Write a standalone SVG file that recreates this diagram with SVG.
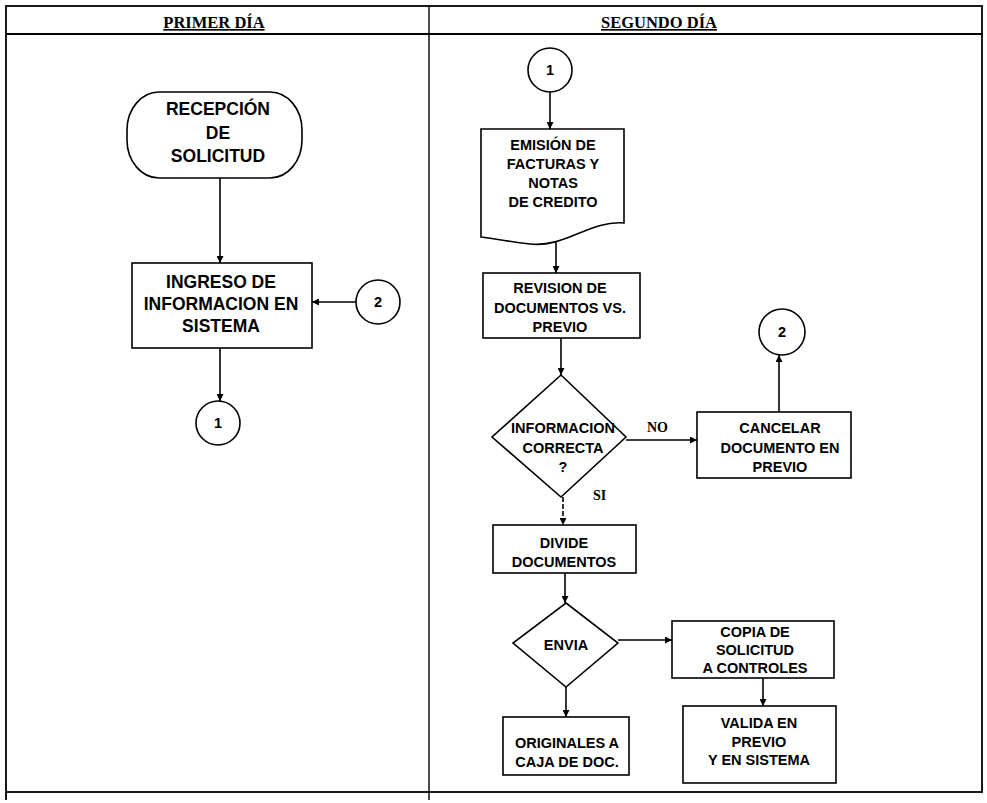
<svg xmlns="http://www.w3.org/2000/svg" width="987" height="803" viewBox="0 0 987 803">
<defs>
<style>
.ln{stroke:#000;stroke-width:1.6;fill:none}
.sh{stroke:#000;stroke-width:1.6;fill:#fff}
.t{font-family:"Liberation Sans",Arial,sans-serif;font-weight:bold;font-size:14.5px;text-anchor:middle;fill:#000}
.tl{font-family:"Liberation Sans",Arial,sans-serif;font-weight:bold;font-size:17.5px;text-anchor:middle;fill:#000}
.h{font-family:"Liberation Serif","Times New Roman",serif;font-weight:bold;font-size:16.5px;text-anchor:middle;fill:#000;text-decoration:underline}
.s{font-family:"Liberation Serif","Times New Roman",serif;font-weight:bold;font-size:14px;fill:#000}
</style>
<marker id="ah" viewBox="0 0 10 10" refX="10" refY="5" markerWidth="7" markerHeight="7" orient="auto" markerUnits="userSpaceOnUse">
<path d="M0,0 L10,5 L0,10 z" fill="#000"/>
</marker>
</defs>
<rect width="987" height="803" fill="#fff"/>
<g id="table">
<rect x="6" y="6" width="976" height="786" fill="none" stroke="#000" stroke-width="1.8"/>
<line x1="6" y1="34" x2="982" y2="34" stroke="#000" stroke-width="1.8"/>
<line x1="429" y1="6" x2="429" y2="800" stroke="#000" stroke-width="1.4"/>
<line x1="6" y1="792" x2="6" y2="800" stroke="#000" stroke-width="1.8"/>
<text class="h" x="214" y="28">PRIMER DÍA</text>
<text class="h" x="659" y="28">SEGUNDO DÍA</text>
</g>
<g id="connectors">
<line class="ln" x1="220" y1="178" x2="220" y2="263" marker-end="url(#ah)"/>
<line class="ln" x1="356" y1="302" x2="312" y2="302" marker-end="url(#ah)"/>
<line class="ln" x1="220" y1="348" x2="220" y2="401" marker-end="url(#ah)"/>
<line class="ln" x1="550" y1="92" x2="550" y2="129" marker-end="url(#ah)"/>
<line class="ln" x1="556" y1="241" x2="556" y2="273" marker-end="url(#ah)"/>
<line class="ln" x1="561" y1="338" x2="561" y2="375" marker-end="url(#ah)"/>
<line class="ln" x1="626" y1="440" x2="697" y2="440" marker-end="url(#ah)"/>
<line class="ln" x1="779" y1="412" x2="779" y2="355" marker-end="url(#ah)"/>
<line class="ln" x1="563" y1="497" x2="563" y2="525" marker-end="url(#ah)" stroke-dasharray="5,2"/>
<line class="ln" x1="565" y1="573" x2="565" y2="603" marker-end="url(#ah)"/>
<line class="ln" x1="618" y1="640" x2="672" y2="640" marker-end="url(#ah)"/>
<line class="ln" x1="763" y1="678" x2="763" y2="706" marker-end="url(#ah)"/>
<line class="ln" x1="566" y1="687" x2="566" y2="717" marker-end="url(#ah)"/>
</g>
<g id="recepcion">
<rect class="sh" x="127" y="92" width="175" height="86" rx="32" ry="38"/>
<text class="tl" x="218" y="115">RECEPCIÓN</text>
<text class="tl" x="218" y="139">DE</text>
<text class="tl" x="218" y="162">SOLICITUD</text>
</g>
<g id="ingreso">
<rect class="sh" x="132" y="263" width="180" height="85"/>
<text class="tl" x="221" y="288">INGRESO DE</text>
<text class="tl" x="221" y="310">INFORMACION EN</text>
<text class="tl" x="221" y="332">SISTEMA</text>
</g>
<g id="conn2-left">
<circle class="sh" cx="378" cy="302" r="22"/>
<text class="t" x="378" y="307">2</text>
</g>
<g id="conn1-left">
<circle class="sh" cx="218" cy="423" r="22"/>
<text class="t" x="218" y="428">1</text>
</g>
<g id="conn1-right">
<circle class="sh" cx="550" cy="70" r="22"/>
<text class="t" x="550" y="75">1</text>
</g>
<g id="emision">
<path class="sh" d="M481,129 L624,129 L624,223 C590,220 565,248 530,244 C505,241 490,238 481,237 Z"/>
<text class="t" x="553" y="150">EMISIÓN DE</text>
<text class="t" x="553" y="169">FACTURAS Y</text>
<text class="t" x="553" y="188">NOTAS</text>
<text class="t" x="553" y="207">DE CREDITO</text>
</g>
<g id="revision">
<rect class="sh" x="483" y="273" width="157" height="65"/>
<text class="t" x="560" y="293">REVISION DE</text>
<text class="t" x="560" y="313">DOCUMENTOS VS.</text>
<text class="t" x="560" y="332">PREVIO</text>
</g>
<g id="informacion">
<path class="sh" d="M561,375 L626,437 L561,497 L492,437 Z"/>
<text class="t" x="563" y="433">INFORMACION</text>
<text class="t" x="563" y="453">CORRECTA</text>
<text class="t" x="563" y="472">?</text>
</g>
<text class="s" x="647" y="432">NO</text>
<text class="s" x="593" y="500">SI</text>
<g id="cancelar">
<rect class="sh" x="697" y="412" width="154" height="66"/>
<text class="t" x="780" y="433">CANCELAR</text>
<text class="t" x="780" y="453">DOCUMENTO EN</text>
<text class="t" x="780" y="472">PREVIO</text>
</g>
<g id="conn2-right">
<circle class="sh" cx="782" cy="332" r="23"/>
<text class="t" x="782" y="337">2</text>
</g>
<g id="divide">
<rect class="sh" x="493" y="525" width="143" height="48"/>
<text class="t" x="564" y="548">DIVIDE</text>
<text class="t" x="564" y="567">DOCUMENTOS</text>
</g>
<g id="envia">
<path class="sh" d="M566,603 L618,643 L566,687 L513,643 Z"/>
<text class="t" x="566" y="650">ENVIA</text>
</g>
<g id="copia">
<rect class="sh" x="672" y="621" width="162" height="57"/>
<text class="t" x="755" y="637">COPIA DE</text>
<text class="t" x="755" y="655">SOLICITUD</text>
<text class="t" x="755" y="673">A CONTROLES</text>
</g>
<g id="valida">
<rect class="sh" x="683" y="706" width="153" height="77"/>
<text class="t" x="759" y="728">VALIDA EN</text>
<text class="t" x="759" y="747">PREVIO</text>
<text class="t" x="759" y="765">Y EN SISTEMA</text>
</g>
<g id="originales">
<rect class="sh" x="503" y="717" width="126" height="58"/>
<text class="t" x="567" y="748">ORIGINALES A</text>
<text class="t" x="567" y="767">CAJA DE DOC.</text>
</g>
</svg>
